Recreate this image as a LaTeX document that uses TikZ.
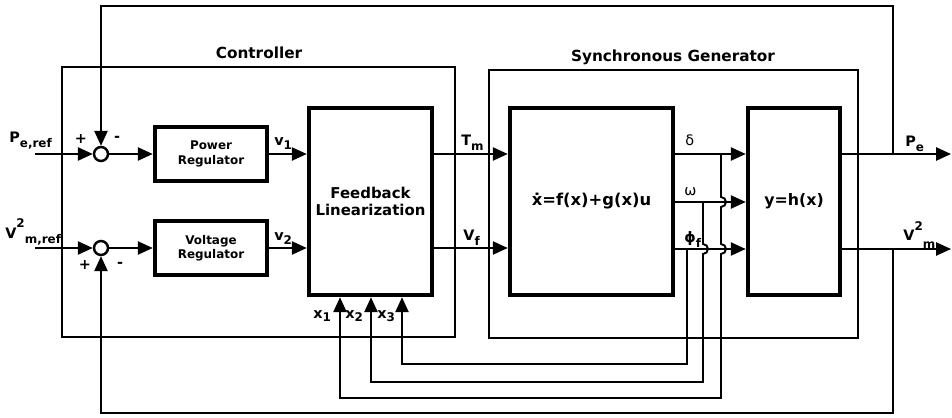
\documentclass[tikz,border=0pt]{standalone}
\usepackage{fontspec}
\setmainfont{DejaVu Sans}
\usetikzlibrary{arrows.meta}
\begin{document}
\begin{tikzpicture}[x=0.02cm,y=-0.02cm,
  line/.style={line width=1.1pt},
  arr/.style={line width=1.1pt,-{Triangle[length=8.5pt,width=7.5pt]}},
  blk/.style={draw,line width=2.6pt,inner sep=0pt,align=center,font=\bfseries\fontsize{8.5}{10}\selectfont},
  sblk/.style={blk,font=\bfseries\fontsize{6.8}{8.2}\selectfont},
  frame/.style={draw,line width=1.1pt,inner sep=0pt},
  sumc/.style={draw,circle,line width=1.4pt,minimum size=0.28cm,inner sep=0pt},
  lbl/.style={inner sep=0pt,font=\bfseries\fontsize{8.2}{9}\selectfont},
  glbl/.style={inner sep=0pt,font=\fontsize{8.2}{9}\selectfont},
  ttl/.style={inner sep=0pt,font=\bfseries\fontsize{8.7}{10}\selectfont}]
\useasboundingbox (0,0) rectangle (952,418);
% frames
\node[frame,minimum width=7.86cm,minimum height=5.4cm] (ctrl) at (258.5,202) {};
\node[frame,minimum width=7.38cm,minimum height=5.36cm] (gen) at (673.5,204) {};
\node[ttl] (ctrlt) at (259,53) {Controller};
\node[ttl] (gent) at (673,57) {Synchronous Generator};
% blocks
\node[sumc] (s1) at (101,154) {};
\node[sumc] (s2) at (101,248) {};
\node[sblk,minimum width=2.24cm,minimum height=1.08cm] (pr) at (211,154) {Power\\Regulator};
\node[sblk,minimum width=2.24cm,minimum height=1.08cm] (vr) at (211,248) {Voltage\\Regulator};
\node[blk,minimum width=2.46cm,minimum height=3.74cm] (fl) at (370.5,201.5) {Feedback\\Linearization};
\node[blk,minimum width=3.26cm,minimum height=3.74cm,font=\bfseries\fontsize{9.3}{11}\selectfont] (dyn) at (591.5,201.5) {ẋ=f(x)+g(x)u};
\node[blk,minimum width=1.84cm,minimum height=3.74cm,font=\bfseries\fontsize{9}{11}\selectfont] (hx) at (794,201.5) {y=h(x)};
% coordinates
\coordinate (pin) at (35,154);
\coordinate (vin) at (35,248);
\coordinate (pout) at (951,154);
\coordinate (vout) at (951,249);
\coordinate (tr) at (893,6);
\coordinate (br) at (893,413);
\coordinate (tp) at (893,154);
\coordinate (bp) at (893,249);
\coordinate (dl) at (721,154);
\coordinate (wl) at (703,202);
\coordinate (fq) at (687,249);
\coordinate (c1) at (340,398);
\coordinate (c2) at (371,382);
\coordinate (c3) at (402,364);
% main path
\draw[arr] (pin) -- (s1.west);
\draw[arr] (vin) -- (s2.west);
\draw[arr] (s1.east) -- (pr.west);
\draw[arr] (s2.east) -- (vr.west);
\draw[arr] (pr.east) -- (pr.east -| fl.west);
\draw[arr] (vr.east) -- (vr.east -| fl.west);
\draw[arr] (pr.east -| fl.east) -- (pr.east -| dyn.west);
\draw[arr] (vr.east -| fl.east) -- (vr.east -| dyn.west);
\draw[arr] (dl -| dyn.east) -- (dl -| hx.west);
\draw[arr] (wl -| dyn.east) -- (wl -| hx.west);
\draw[arr] (fq -| dyn.east) -- (fq -| hx.west);
\draw[arr] (tp -| hx.east) -- (pout);
\draw[arr] (bp -| hx.east) -- (vout);
% outer feedback
\draw[arr] (tp) -- (tr) -- (tr -| s1) -- (s1.north);
\draw[arr] (bp) -- (br) -- (br -| s2) -- (s2.south);
% state feedback with jumps
\draw[arr] (dl) -- (721,197) arc[start angle=-90,end angle=90,radius=5]
  -- (721,244) arc[start angle=-90,end angle=90,radius=5]
  -- (c1 -| dl) -- (c1) -- (c1 |- fl.south);
\draw[arr] (wl) -- (703,244) arc[start angle=-90,end angle=90,radius=5]
  -- (c2 -| wl) -- (c2) -- (c2 |- fl.south);
\draw[arr] (fq) -- (c3 -| fq) -- (c3) -- (c3 |- fl.south);
% labels
\node[lbl] (p1) at (81,139) {+};
\node[lbl] (m1) at (117,139) {-};
\node[lbl] (p2) at (85,265) {+};
\node[lbl] (m2) at (120,265) {-};
\node[lbl,anchor=base west] (lpin) at (9,143) {P\raisebox{-0.55ex}{\fontsize{6.8}{7}\selectfont e,ref}};
\node[lbl,anchor=base west] (lvin) at (5,238) {V\raisebox{1.3ex}{\fontsize{6.8}{7}\selectfont 2}\raisebox{-0.7ex}{\fontsize{6.8}{7}\selectfont m,ref}};
\node[lbl,anchor=base west] (lv1) at (274,146) {v\raisebox{-0.5ex}{\fontsize{6.8}{7}\selectfont 1}};
\node[lbl,anchor=base west] (lv2) at (274,241) {v\raisebox{-0.5ex}{\fontsize{6.8}{7}\selectfont 2}};
\node[lbl,anchor=base west] (ltm) at (461,146) {T\raisebox{-0.55ex}{\fontsize{6.8}{7}\selectfont m}};
\node[lbl,anchor=base west] (lvf) at (463,241) {V\raisebox{-0.6ex}{\fontsize{6.8}{7}\selectfont f}};
\node[glbl,anchor=base west] (ld) at (685,146) {δ};
\node[glbl,anchor=base west] (lw) at (684,196) {ω};
\node[lbl,anchor=base west] (lf) at (684,243) {ϕ\raisebox{-0.6ex}{\fontsize{6.8}{7}\selectfont f}};
\node[lbl,anchor=base west] (lpe) at (905,147) {P\raisebox{-0.6ex}{\fontsize{6.8}{7}\selectfont e}};
\node[lbl,anchor=base west] (lvm) at (903,241) {V\raisebox{1.3ex}{\fontsize{6.8}{7}\selectfont 2}\raisebox{-0.9ex}{\fontsize{6.8}{7}\selectfont m}};
\node[lbl,anchor=base west] (lx1) at (313,318) {x\raisebox{-0.5ex}{\fontsize{6.8}{7}\selectfont 1}};
\node[lbl,anchor=base west] (lx2) at (345,318) {x\raisebox{-0.5ex}{\fontsize{6.8}{7}\selectfont 2}};
\node[lbl,anchor=base west] (lx3) at (377,318) {x\raisebox{-0.5ex}{\fontsize{6.8}{7}\selectfont 3}};
\end{tikzpicture}
\end{document}
